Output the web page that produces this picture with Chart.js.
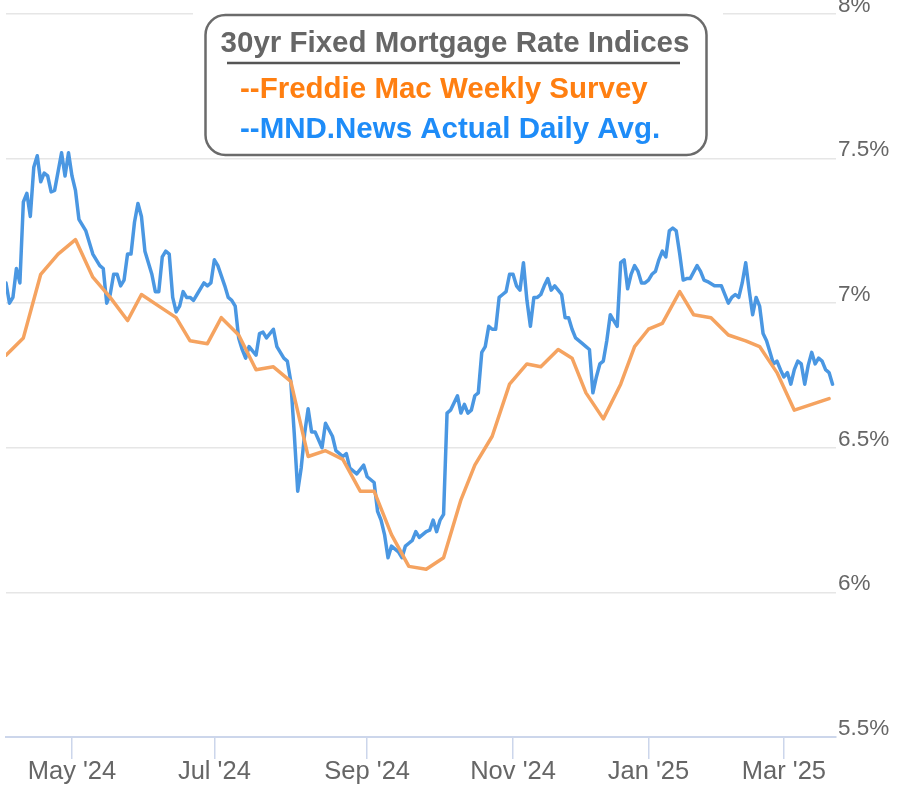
<!DOCTYPE html>
<html>
<head>
<meta charset="utf-8">
<script src="https://cdn.jsdelivr.net/npm/chart.js@4.4.1/dist/chart.umd.min.js"></script>
<style>
  html, body { margin: 0; padding: 0; background: #ffffff; }
  #wrap { width: 898px; height: 793px; position: relative; }
</style>
</head>
<body>
<div id="wrap"><canvas id="chart"></canvas></div>
<script>
// ---------------- DATA ----------------
// Ordinal (trading-day) x axis: one slot per market day from first to last date.
const firstDay = '2024-04-04';
const lastDay = '2025-03-21';
const marketHolidays = ['2024-05-27','2024-06-19','2024-07-04','2024-09-02','2024-10-14','2024-11-11',
  '2024-11-28','2024-11-29','2024-12-25','2025-01-01','2025-01-09','2025-01-20','2025-02-17'];

const tickDates = ['2024-05-01','2024-07-01','2024-09-01','2024-11-01','2025-01-01','2025-03-01'];
const tickLabels = ["May '24","Jul '24","Sep '24","Nov '24","Jan '25","Mar '25"];

const yTickValues = [5.5, 6, 6.5, 7, 7.5, 8];
const yTickLabels = ['5.5%', '6%', '6.5%', '7%', '7.5%', '8%'];

const legendTitle = '30yr Fixed Mortgage Rate Indices';
const seriesNames = ['--Freddie Mac Weekly Survey', '--MND.News Actual Daily Avg.'];

// Freddie Mac weekly survey
const freddieDates = ['2024-04-04','2024-04-11','2024-04-18','2024-04-25','2024-05-02','2024-05-09','2024-05-16',
  '2024-05-23','2024-05-30','2024-06-06','2024-06-13','2024-06-20','2024-06-27','2024-07-03','2024-07-11',
  '2024-07-18','2024-07-25','2024-08-01','2024-08-08','2024-08-15','2024-08-22','2024-08-29','2024-09-05',
  '2024-09-12','2024-09-19','2024-09-26','2024-10-03','2024-10-10','2024-10-17','2024-10-24','2024-10-31',
  '2024-11-07','2024-11-14','2024-11-21','2024-11-27','2024-12-05','2024-12-12','2024-12-19','2024-12-26',
  '2025-01-02','2025-01-08','2025-01-16','2025-01-23','2025-01-30','2025-02-06','2025-02-13','2025-02-20',
  '2025-02-27','2025-03-06','2025-03-13','2025-03-20'];
const freddieRates = [6.82,6.88,7.10,7.17,7.22,7.09,7.02,
  6.94,7.03,6.99,6.95,6.87,6.86,6.95,6.89,
  6.77,6.78,6.73,6.47,6.49,6.46,6.35,6.35,
  6.20,6.09,6.08,6.12,6.32,6.44,6.54,6.72,
  6.79,6.78,6.84,6.81,6.69,6.60,6.72,6.85,
  6.91,6.93,7.04,6.96,6.95,6.89,6.87,6.85,
  6.76,6.63,6.65,6.67];

// MND daily average (readings at visible turning points)
const mndDates = [
  '2024-04-04','2024-04-05','2024-04-08','2024-04-09','2024-04-10','2024-04-11','2024-04-12','2024-04-15','2024-04-16',
  '2024-04-17','2024-04-18','2024-04-19','2024-04-22','2024-04-23','2024-04-24','2024-04-26','2024-04-29','2024-04-30',
  '2024-05-01','2024-05-02','2024-05-03','2024-05-07','2024-05-08','2024-05-09','2024-05-13','2024-05-14','2024-05-15',
  '2024-05-16','2024-05-17','2024-05-20','2024-05-21','2024-05-22','2024-05-23','2024-05-24','2024-05-28','2024-05-29',
  '2024-05-30','2024-05-31',
  '2024-06-04','2024-06-05','2024-06-06','2024-06-07','2024-06-10','2024-06-11','2024-06-12','2024-06-13','2024-06-14',
  '2024-06-17','2024-06-18','2024-06-20','2024-06-21','2024-06-24','2024-06-26','2024-06-27','2024-06-28',
  '2024-07-01','2024-07-02','2024-07-05','2024-07-08','2024-07-09','2024-07-10','2024-07-11','2024-07-12','2024-07-15',
  '2024-07-16','2024-07-18','2024-07-19','2024-07-22','2024-07-23','2024-07-25','2024-07-26','2024-07-30','2024-07-31',
  '2024-08-01','2024-08-02','2024-08-05','2024-08-06','2024-08-07','2024-08-08','2024-08-09','2024-08-12','2024-08-14',
  '2024-08-15','2024-08-19','2024-08-20','2024-08-22','2024-08-23','2024-08-26','2024-08-28','2024-08-30',
  '2024-09-03','2024-09-05','2024-09-06','2024-09-09','2024-09-10','2024-09-11','2024-09-12','2024-09-16','2024-09-17',
  '2024-09-18','2024-09-19','2024-09-20','2024-09-23','2024-09-24','2024-09-26','2024-09-27','2024-09-30',
  '2024-10-01','2024-10-02','2024-10-03','2024-10-04','2024-10-07','2024-10-09','2024-10-10','2024-10-11','2024-10-15',
  '2024-10-16','2024-10-17','2024-10-18','2024-10-21','2024-10-22','2024-10-23','2024-10-24','2024-10-25','2024-10-28',
  '2024-10-29','2024-10-30','2024-10-31',
  '2024-11-01','2024-11-04','2024-11-05','2024-11-06','2024-11-07','2024-11-08','2024-11-12','2024-11-13','2024-11-14',
  '2024-11-15','2024-11-18','2024-11-19','2024-11-20','2024-11-21','2024-11-22','2024-11-25','2024-11-26','2024-11-27',
  '2024-12-02','2024-12-04','2024-12-05','2024-12-06','2024-12-09','2024-12-10','2024-12-11','2024-12-12','2024-12-13',
  '2024-12-16','2024-12-17','2024-12-18','2024-12-19','2024-12-20','2024-12-23','2024-12-24','2024-12-26','2024-12-27',
  '2024-12-30','2024-12-31',
  '2025-01-02','2025-01-03','2025-01-06','2025-01-07','2025-01-08','2025-01-10','2025-01-13','2025-01-14','2025-01-15',
  '2025-01-16','2025-01-17','2025-01-21','2025-01-22','2025-01-24','2025-01-27','2025-01-28','2025-01-29','2025-01-31',
  '2025-02-03','2025-02-04','2025-02-06','2025-02-07','2025-02-10','2025-02-11','2025-02-12','2025-02-13','2025-02-14',
  '2025-02-18','2025-02-19','2025-02-20','2025-02-21','2025-02-24','2025-02-25','2025-02-26','2025-02-27','2025-02-28',
  '2025-03-03','2025-03-04','2025-03-05','2025-03-06','2025-03-07','2025-03-10','2025-03-11','2025-03-12','2025-03-13',
  '2025-03-14','2025-03-17','2025-03-18','2025-03-19','2025-03-20','2025-03-21'];
const mndRates = [
  7.07,7.00,7.02,7.12,7.07,7.35,7.38,7.30,7.47,
  7.51,7.42,7.45,7.44,7.385,7.39,7.52,7.44,7.52,
  7.44,7.39,7.29,7.25,7.21,7.17,7.13,7.12,7.00,
  7.03,7.10,7.10,7.06,7.08,7.17,7.17,7.28,7.345,
  7.30,7.18,
  7.10,7.04,7.04,7.16,7.18,7.17,7.02,6.97,6.99,
  7.04,7.02,7.02,7.01,7.03,7.07,7.06,7.07,
  7.15,7.13,7.06,7.02,7.01,6.99,6.88,6.84,6.81,
  6.85,6.82,6.895,6.90,6.88,6.91,6.85,6.81,6.80,
  6.73,6.55,6.35,6.43,6.55,6.635,6.555,6.555,6.50,
  6.585,6.54,6.49,6.47,6.48,6.43,6.41,6.44,
  6.40,6.38,6.28,6.25,6.20,6.12,6.16,6.14,6.12,
  6.16,6.17,6.18,6.21,6.19,6.21,6.215,6.25,
  6.21,6.25,6.27,6.62,6.63,6.68,6.62,6.65,6.62,
  6.63,6.68,6.69,6.83,6.85,6.92,6.91,6.91,7.02,
  7.03,7.04,7.10,
  7.10,7.06,7.045,7.14,7.01,6.92,7.02,7.02,7.03,
  7.06,7.085,7.045,7.06,7.045,7.03,6.95,6.95,6.91,
  6.88,6.86,6.85,6.84,6.69,6.745,6.79,6.80,6.87,
  6.96,6.94,6.92,7.14,7.15,7.05,7.10,7.13,7.11,
  7.07,7.07,
  7.08,7.10,7.11,7.15,7.18,7.16,7.25,7.26,7.25,
  7.17,7.08,7.085,7.085,7.13,7.11,7.08,7.075,7.06,
  7.06,7.06,7.00,7.02,7.03,7.02,7.07,7.14,7.045,
  6.96,7.02,6.99,6.895,6.87,6.83,6.79,6.80,6.77,
  6.745,6.76,6.72,6.77,6.80,6.79,6.72,6.785,6.83,
  6.79,6.81,6.80,6.77,6.76,6.72];

// ---------------- ORDINAL MAPPING ----------------
function iso(d) { return d.toISOString().slice(0, 10); }
const tradingDays = [];
(function buildCalendar() {
  const d = new Date(firstDay + 'T00:00:00Z');
  const end = new Date(lastDay + 'T00:00:00Z');
  while (d <= end) {
    const wd = d.getUTCDay();
    const s = iso(d);
    if (wd !== 0 && wd !== 6 && marketHolidays.indexOf(s) < 0) tradingDays.push(s);
    d.setUTCDate(d.getUTCDate() + 1);
  }
})();
function slotOf(dateStr) {
  for (let i = 0; i < tradingDays.length; i++) if (tradingDays[i] >= dateStr) return i;
  return tradingDays.length - 1;
}
const tickSlots = tickDates.map(slotOf);
const toPoints = (dates, vals) => dates.map((d, i) => ({ x: slotOf(d), y: vals[i] }));

// ---------------- LEGEND BOX PLUGIN ----------------
const legendBox = {
  id: 'legendBox',
  afterDraw(chart) {
    const ctx = chart.ctx;
    ctx.save();
    ctx.fillStyle = '#ffffff';
    ctx.fillRect(193, 0, 530, 150);
    const x = 205.5, y = 15, w = 501, h = 140, r = 20;
    ctx.beginPath();
    ctx.moveTo(x + r, y);
    ctx.lineTo(x + w - r, y);
    ctx.arcTo(x + w, y, x + w, y + r, r);
    ctx.lineTo(x + w, y + h - r);
    ctx.arcTo(x + w, y + h, x + w - r, y + h, r);
    ctx.lineTo(x + r, y + h);
    ctx.arcTo(x, y + h, x, y + h - r, r);
    ctx.lineTo(x, y + r);
    ctx.arcTo(x, y, x + r, y, r);
    ctx.closePath();
    ctx.fillStyle = '#ffffff';
    ctx.fill();
    ctx.lineWidth = 2.5;
    ctx.strokeStyle = '#6b6b6b';
    ctx.stroke();
    ctx.textBaseline = 'alphabetic';
    ctx.textAlign = 'center';
    ctx.font = 'bold 29.5px "Liberation Sans", Arial, sans-serif';
    ctx.fillStyle = '#666666';
    ctx.fillText(legendTitle, 455, 52);
    ctx.beginPath();
    ctx.moveTo(227, 63);
    ctx.lineTo(680, 63);
    ctx.lineWidth = 2.5;
    ctx.strokeStyle = '#555555';
    ctx.stroke();
    ctx.textAlign = 'left';
    ctx.fillStyle = '#ff7f11';
    ctx.fillText(seriesNames[0], 240, 98);
    ctx.fillStyle = '#1e8cf8';
    ctx.fillText(seriesNames[1], 240, 138);
    ctx.restore();
  }
};

// ---------------- CHART ----------------
const tickFont = { family: '"Liberation Sans", Arial, sans-serif', size: 25.5 };
const yFont = { family: '"Liberation Sans", Arial, sans-serif', size: 22.5 };

new Chart(document.getElementById('chart'), {
  type: 'line',
  data: {
    datasets: [
      {
        label: 'Freddie Mac Weekly Survey',
        data: toPoints(freddieDates, freddieRates),
        borderColor: '#f5a360',
        borderWidth: 3.5,
        pointRadius: 0,
        tension: 0,
        borderJoinStyle: 'round',
        borderCapStyle: 'round',
        fill: false
      },
      {
        label: 'MND.News Actual Daily Avg.',
        data: toPoints(mndDates, mndRates),
        borderColor: '#4a97e2',
        borderWidth: 3.5,
        pointRadius: 0,
        tension: 0,
        borderJoinStyle: 'round',
        borderCapStyle: 'round',
        fill: false
      }
    ]
  },
  options: {
    responsive: true,
    maintainAspectRatio: false,
    devicePixelRatio: 1,
    animation: false,
    layout: { padding: { left: 6, top: 14, right: 0, bottom: 0 } },
    plugins: { legend: { display: false }, tooltip: { enabled: false }, title: { display: false } },
    scales: {
      x: {
        type: 'linear',
        min: 0,
        max: tradingDays.length,
        afterBuildTicks(scale) { scale.ticks = tickSlots.map(v => ({ value: v })); },
        afterFit(scale) { scale.height = 56; scale.paddingLeft = 0; scale.paddingRight = 0; },
        ticks: {
          autoSkip: false,
          maxRotation: 0,
          color: '#666666',
          font: tickFont,
          padding: -2,
          callback(value) { const i = tickSlots.indexOf(value); return i >= 0 ? tickLabels[i] : ''; }
        },
        grid: { display: true, drawOnChartArea: false, drawTicks: true, tickLength: 22, color: '#ccd6eb', lineWidth: 1.5 },
        border: { display: true, color: '#ccd6eb', width: 2 }
      },
      y: {
        position: 'right',
        min: 5.5,
        max: 8,
        afterBuildTicks(scale) { scale.ticks = yTickValues.map(v => ({ value: v })); },
        afterFit(scale) { scale.width = 62; scale.paddingTop = 0; scale.paddingBottom = 0; },
        ticks: {
          color: '#666666',
          font: yFont,
          padding: 2,
          labelOffset: -8.5,
          callback(value) { const i = yTickValues.indexOf(value); return i >= 0 ? yTickLabels[i] : ''; }
        },
        grid: { color: '#e6e6e6', lineWidth: 1.5, drawTicks: false },
        border: { display: false }
      }
    }
  },
  plugins: [legendBox]
});
</script>
</body>
</html>
